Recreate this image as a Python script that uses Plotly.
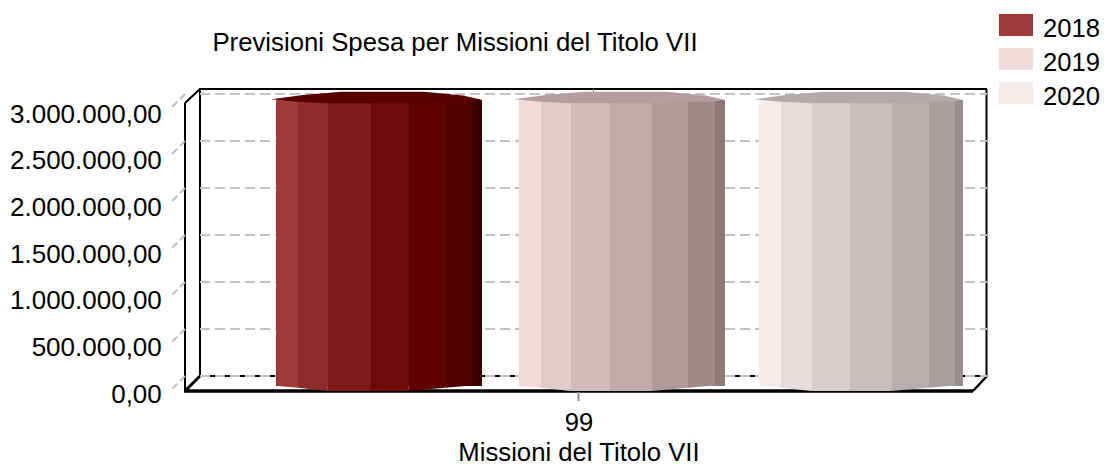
import plotly.graph_objects as go

# ---- data ----
CATEGORIES = ["99"]
SERIES_NAMES = ["2018", "2019", "2020"]
VALUES = [3040000, 3040000, 3040000]
TICK_VALUES = [0, 500000, 1000000, 1500000, 2000000, 2500000, 3000000]
TICK_LABELS = ["0,00", "500.000,00", "1.000.000,00", "1.500.000,00",
               "2.000.000,00", "2.500.000,00", "3.000.000,00"]
TITLE = "Previsioni Spesa per Missioni del Titolo VII"
X_TITLE = "Missioni del Titolo VII"

# ---- styles ----
FACETS_2018 = ["#9e3a3a", "#8e2b2b", "#7e1a1a", "#6f0a0a", "#600000", "#4f0000", "#3c0000"]
FACETS_2019 = ["#f2dcdb", "#e2cccb", "#d1bcbb", "#c1abaa", "#b09b9a", "#9f8a8a", "#8f7978"]
FACETS_2020 = ["#f6eceb", "#e7dddc", "#d7cecd", "#c7bebd", "#b7aead", "#a79e9d", "#97908d"]
CAPS = ["#570000", "#b39f9f", "#b5aaaa"]
LEGEND_COLORS = ["#9e3a3a", "#f2dcdb", "#f6eceb"]
FONT = "Liberation Sans"
W, H = 1105, 466
PX_PER_UNIT = 94 / 1e6

# facet layout, as fractions of a cylinder's width
EDGES_2018 = [0, .108, .254, .459, .646, .824, .952, 1]
EDGES_2019 = [0, .107, .255, .445, .649, .822, .951, 1]
EDGES_2020 = [0, .108, .262, .448, .652, .833, .962, 1]
BOTTOM_DROP = [0, 2, 5.3, 5.3, 5.3, 2, -0.2, -3]   # px below the base at each edge
CAP_TOP = [(-.02, 0.7), (.135, 5), (.32, 8.3), (.72, 8.3), (.91, 4.5), (1.0, 0.2)]  # px above value
CAP_BOTTOM = [(.95, -1.5), (.8225, -1.7), (.645, -3.3), (.2525, -3.3), (.107, -1.7), (0, 0)]
CENTERS = [378.5, 621.2, 860.3]      # pixel centres of the cylinders
CYL_WIDTHS = [206.4, 206.3, 204]

px = lambda v: v / W
py = lambda v: 1 - v / H
dom_x = lambda a, b: [a / W, b / W]
dom_y = lambda bottom, top: [1 - bottom / H, 1 - top / H]

BAR_L, BAR_R = 192.5, 979.5
x_unit = lambda p: (p - (BAR_L + BAR_R) / 2) / (BAR_R - BAR_L)
BASE_PX = 385.7

fig = go.Figure()

# back wall holder + front axis holder
fig.add_trace(go.Scatter(x=[0], y=[TICK_VALUES[0]], mode="lines", xaxis="x", yaxis="y",
                         showlegend=False, hoverinfo="skip"))
fig.add_trace(go.Scatter(x=[0], y=[TICK_VALUES[0]], mode="lines", xaxis="x2", yaxis="y2",
                         showlegend=False, hoverinfo="skip"))

for name, value, facets, cap, center, cyl_w, edges in zip(
        SERIES_NAMES, VALUES, [FACETS_2018, FACETS_2019, FACETS_2020], CAPS, CENTERS, CYL_WIDTHS,
        [EDGES_2018, EDGES_2019, EDGES_2020]):
    left = center - cyl_w / 2
    edge_x = [x_unit(left + e * cyl_w) for e in edges]
    fig.add_trace(go.Bar(
        x=[(edge_x[i] + edge_x[i + 1]) / 2 for i in range(7)],
        y=[value] * 7,
        width=[edge_x[i + 1] - edge_x[i] for i in range(7)],
        marker=dict(color=facets, line=dict(width=0)),
        name=name, xaxis="x3", yaxis="y3", showlegend=False,
        hovertemplate=name + ": %{y}<extra></extra>",
    ))
    for i in range(7):
        xs = [edge_x[i], edge_x[i + 1], edge_x[i + 1], edge_x[i], edge_x[i]]
        ys = [0, 0, -BOTTOM_DROP[i + 1] / PX_PER_UNIT, -BOTTOM_DROP[i] / PX_PER_UNIT, 0]
        fig.add_trace(go.Scatter(x=xs, y=ys, mode="lines", fill="toself", fillcolor=facets[i],
                                 line=dict(width=0, color=facets[i]), xaxis="x3", yaxis="y3",
                                 showlegend=False, hoverinfo="skip"))
    prof = CAP_TOP + CAP_BOTTOM
    fig.add_trace(go.Scatter(
        x=[x_unit(left + f * cyl_w) for f, _ in prof] + [x_unit(left + prof[0][0] * cyl_w)],
        y=[value + d / PX_PER_UNIT for _, d in prof] + [value + prof[0][1] / PX_PER_UNIT],
        mode="lines", fill="toself", fillcolor=cap, line=dict(width=0, color=cap),
        xaxis="x3", yaxis="y3", showlegend=False, hoverinfo="skip"))

BLACK = "#000000"
def seg(x0, y0, x1, y1, color=BLACK, width=2, dash=None):
    return dict(type="line", xref="paper", yref="paper", x0=px(x0), y0=py(y0), x1=px(x1), y1=py(y1),
                line=dict(color=color, width=width, dash=dash), layer="below")

shapes = [
    seg(200, 89, 200, 376), seg(199, 89, 987, 89), seg(986.5, 89, 986.5, 376),
    seg(200, 376, 986.5, 376), seg(185, 103, 185, 391), seg(185, 103, 200, 89),
    seg(185, 391, 200, 376, width=3), seg(973, 391, 987, 376, width=2.5),
    seg(184, 391, 973, 391, width=3.5),
    seg(593.5, 89, 593.5, 92, color="#808080", width=1),
    seg(578.5, 392, 578.5, 401, color="#909090", width=2),
]
back_y = lambda v: 376 - v * PX_PER_UNIT
for v in TICK_VALUES:
    y0 = back_y(v)
    shapes.append(seg(185, y0, 170, y0 + 15, color="#c0c0c0", width=2, dash="7px,4px"))

# legend drawn like the reference: wide swatches
annotations = []
for i, (name, color) in enumerate(zip(SERIES_NAMES, LEGEND_COLORS)):
    top = 14 + 34 * i
    shapes.append(dict(type="rect", xref="paper", yref="paper", x0=px(999), x1=px(1033),
                       y0=py(top), y1=py(top + 22), fillcolor=color, line=dict(width=0)))
    annotations.append(dict(text=name, xref="paper", yref="paper", x=px(1041), y=py(top + 13.7),
                            xanchor="left", yanchor="middle", showarrow=False,
                            font=dict(family=FONT, size=25.6, color="#000000")))

PAD_PX = 3
hidden = dict(visible=False, showgrid=False, zeroline=False, fixedrange=True, automargin=False)
fig.update_layout(
    width=W, height=H, margin=dict(l=0, r=0, t=0, b=0, pad=0), autosize=False,
    paper_bgcolor="white", plot_bgcolor="rgba(0,0,0,0)", showlegend=False,
    barmode="overlay", bargap=0,
    font=dict(family=FONT, color="#000000"),
    title=dict(text=TITLE, x=px(455), y=py(42), xanchor="center", yanchor="middle",
               xref="paper", yref="paper", font=dict(family=FONT, size=25.75, color="#000000")),
    shapes=shapes, annotations=annotations,
    # back wall with the dashed grid
    xaxis=dict(domain=dom_x(200, 986.5), range=[-.5, .5], anchor="y", **hidden),
    yaxis=dict(domain=dom_y(376 + PAD_PX, 94 - PAD_PX),
               range=[-PAD_PX / PX_PER_UNIT, 3e6 + PAD_PX / PX_PER_UNIT], anchor="x", visible=True,
               tickvals=TICK_VALUES, showticklabels=False, ticks="", showline=False,
               showgrid=True, griddash="10px,5px", gridcolor="#c4c4c4", gridwidth=2,
               zeroline=False, fixedrange=True, automargin=False),
    # front axes, carrying the labels
    xaxis2=dict(domain=dom_x(185, 973), range=[-.5, .5], anchor="y2", tickmode="array",
                tickvals=[0], ticktext=CATEGORIES, ticks="outside", ticklen=5.5, tickcolor="rgba(0,0,0,0)",
                tickwidth=1, showline=False, showgrid=False, zeroline=False, fixedrange=True,
                automargin=False, tickfont=dict(family=FONT, size=25.6, color="#000000"),
                title=dict(text=X_TITLE, standoff=15, font=dict(family=FONT, size=25.7, color="#000000"))),
    yaxis2=dict(domain=dom_y(393.5, 113.5), range=[0, 3e6], anchor="x2", tickmode="array",
                tickvals=TICK_VALUES, ticktext=TICK_LABELS, ticks="outside", ticklen=17,
                tickcolor="rgba(0,0,0,0)", showline=False, showgrid=False, zeroline=False,
                fixedrange=True, automargin=False, tickfont=dict(family=FONT, size=26, color="#000000")),
    # bars at mid depth
    xaxis3=dict(domain=dom_x(BAR_L, BAR_R), range=[-.5, .5], anchor="y3", **hidden),
    yaxis3=dict(domain=dom_y(BASE_PX + 10, BASE_PX - 300), range=[-10 / PX_PER_UNIT, 300 / PX_PER_UNIT],
                anchor="x3", **hidden),
)

fig.write_html("out.html", config={"displayModeBar": False},
               post_script="document.body.style.margin='0';")
